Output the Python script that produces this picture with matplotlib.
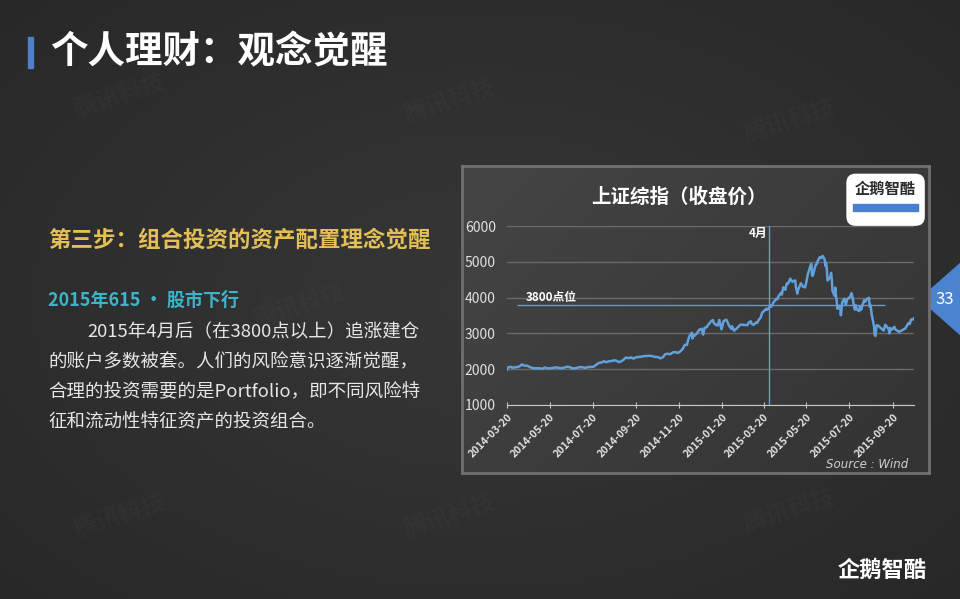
import numpy as np
import matplotlib
matplotlib.use('Agg')
import matplotlib.pyplot as plt
import matplotlib.dates as mdates
from matplotlib.patches import Rectangle, Polygon, FancyBboxPatch

plt.rcParams['font.family'] = ['Noto Sans CJK SC', 'DejaVu Sans']

# 上证综指 closing values
dates = [
    '2014-03-20', '2014-03-21', '2014-03-25', '2014-03-28', '2014-04-02', '2014-04-04',
    '2014-04-09', '2014-04-10', '2014-04-14', '2014-04-18', '2014-04-22', '2014-04-25',
    '2014-04-29', '2014-05-05', '2014-05-09', '2014-05-13', '2014-05-16', '2014-05-21',
    '2014-05-23', '2014-05-28', '2014-06-03', '2014-06-06', '2014-06-11', '2014-06-13',
    '2014-06-18', '2014-06-20', '2014-06-25', '2014-06-27', '2014-07-02', '2014-07-04',
    '2014-07-09', '2014-07-11', '2014-07-16', '2014-07-18', '2014-07-22', '2014-07-25',
    '2014-07-29', '2014-08-01', '2014-08-05', '2014-08-08', '2014-08-12', '2014-08-15',
    '2014-08-19', '2014-08-22', '2014-08-26', '2014-08-29', '2014-09-02', '2014-09-05',
    '2014-09-10', '2014-09-12', '2014-09-16', '2014-09-19', '2014-09-23', '2014-09-26',
    '2014-09-30', '2014-10-10', '2014-10-14', '2014-10-17', '2014-10-21', '2014-10-24',
    '2014-10-28', '2014-10-31', '2014-11-04', '2014-11-07', '2014-11-11', '2014-11-14',
    '2014-11-18', '2014-11-21', '2014-11-25', '2014-11-28',
    '2014-12-01', '2014-12-02', '2014-12-04', '2014-12-05', '2014-12-08', '2014-12-09',
    '2014-12-10', '2014-12-12', '2014-12-16', '2014-12-17', '2014-12-19', '2014-12-22',
    '2014-12-23', '2014-12-24', '2014-12-26', '2014-12-29', '2014-12-31',
    '2015-01-05', '2015-01-07', '2015-01-08', '2015-01-12', '2015-01-14', '2015-01-16',
    '2015-01-19', '2015-01-20', '2015-01-22', '2015-01-26', '2015-01-28', '2015-01-30',
    '2015-02-02', '2015-02-03', '2015-02-06', '2015-02-10', '2015-02-13', '2015-02-16',
    '2015-02-25', '2015-02-27', '2015-03-02', '2015-03-03', '2015-03-06', '2015-03-09',
    '2015-03-11', '2015-03-13', '2015-03-16', '2015-03-18', '2015-03-20', '2015-03-24',
    '2015-03-25', '2015-03-27', '2015-03-30', '2015-03-31', '2015-04-02', '2015-04-03',
    '2015-04-07', '2015-04-09', '2015-04-10', '2015-04-14', '2015-04-15', '2015-04-17',
    '2015-04-20', '2015-04-22', '2015-04-24', '2015-04-27', '2015-04-30', '2015-05-04',
    '2015-05-05', '2015-05-07', '2015-05-08', '2015-05-12', '2015-05-15', '2015-05-18',
    '2015-05-20', '2015-05-22', '2015-05-26', '2015-05-27', '2015-05-28', '2015-05-29',
    '2015-06-02', '2015-06-04', '2015-06-05', '2015-06-08', '2015-06-10', '2015-06-12',
    '2015-06-15', '2015-06-16', '2015-06-17', '2015-06-18', '2015-06-19', '2015-06-23',
    '2015-06-24', '2015-06-25', '2015-06-26', '2015-06-29', '2015-06-30', '2015-07-01',
    '2015-07-02', '2015-07-03', '2015-07-06', '2015-07-07', '2015-07-08', '2015-07-09',
    '2015-07-10', '2015-07-13', '2015-07-15', '2015-07-17', '2015-07-21', '2015-07-23',
    '2015-07-24', '2015-07-27', '2015-07-28', '2015-07-29', '2015-07-31', '2015-08-03',
    '2015-08-04', '2015-08-06', '2015-08-07', '2015-08-10', '2015-08-12', '2015-08-14',
    '2015-08-17', '2015-08-18', '2015-08-19', '2015-08-20', '2015-08-21', '2015-08-24',
    '2015-08-25', '2015-08-26', '2015-08-27', '2015-08-28', '2015-08-31', '2015-09-02',
    '2015-09-07', '2015-09-09', '2015-09-11', '2015-09-14', '2015-09-15', '2015-09-16',
    '2015-09-18', '2015-09-22', '2015-09-23', '2015-09-25', '2015-09-29', '2015-09-30',
    '2015-10-08', '2015-10-09', '2015-10-12', '2015-10-14', '2015-10-15', '2015-10-16',
    '2015-10-19', '2015-10-20',
]
closes = [
    1993, 2047, 2067, 2041, 2059, 2058,
    2105, 2134, 2098, 2098, 2055, 2036,
    2026, 2027, 2011, 2050, 2026, 2024,
    2034, 2050, 2038, 2029, 2052, 2070,
    2055, 2024, 2025, 2036, 2059, 2059,
    2038, 2047, 2067, 2059, 2076, 2126,
    2178, 2185, 2223, 2194, 2221, 2226,
    2245, 2240, 2199, 2217, 2266, 2326,
    2307, 2331, 2296, 2329, 2343, 2347,
    2364, 2374, 2359, 2341, 2339, 2302,
    2337, 2420, 2430, 2418, 2469, 2478,
    2456, 2487, 2567, 2683,
    2680, 2763, 2899, 2938, 3020, 2857,
    2940, 2938, 3021, 3061, 3108, 3128,
    3032, 2968, 3157, 3168, 3235,
    3351, 3374, 3294, 3230, 3222, 3376,
    3116, 3173, 3343, 3383, 3305, 3210,
    3128, 3204, 3076, 3141, 3204, 3247,
    3229, 3310, 3336, 3263, 3241, 3302,
    3291, 3372, 3449, 3577, 3617, 3691,
    3660, 3691, 3786, 3748, 3825, 3863,
    3961, 3957, 4034, 4135, 4084, 4287,
    4217, 4398, 4394, 4527, 4442, 4481,
    4299, 4112, 4205, 4401, 4308, 4284,
    4446, 4658, 4910, 4941, 4620, 4611,
    4910, 4947, 5023, 5131, 5106, 5166,
    5062, 4887, 4967, 4785, 4478, 4577,
    4690, 4527, 4193, 4053, 4277, 4054,
    3913, 3687, 3776, 3728, 3507, 3710,
    3878, 3970, 3805, 3957, 4017, 4124,
    4070, 3725, 3663, 3789, 3664, 3623,
    3756, 3662, 3744, 3928, 3887, 3965,
    3993, 3749, 3794, 3664, 3508, 3210,
    2965, 2928, 3084, 3232, 3206, 3160,
    3080, 3243, 3200, 3114, 2999, 3152,
    3097, 3186, 3116, 3093, 3038, 3053,
    3144, 3183, 3287, 3263, 3338, 3391,
    3387, 3425,
]
yticks = [1000, 2000, 3000, 4000, 5000, 6000]
level_3800 = 3800
april_mark = '2015-03-28'

body_lines = [
    '2015年4月后（在3800点以上）追涨建仓',
    '的账户多数被套。人们的风险意识逐渐觉醒，',
    '合理的投资需要的是Portfolio，即不同风险特',
    '征和流动性特征资产的投资组合。',
]

fig = plt.figure(figsize=(9.6, 5.99), dpi=100)

# slide background, pixel coords
bg = fig.add_axes([0, 0, 1, 1])
yy, xx = np.mgrid[0:599, 0:960]
r = np.sqrt(((xx - 480) / 700.0) ** 2 + ((yy - 300) / 450.0) ** 2)
shade = 0.215 - 0.06 * np.clip(r, 0, 1)
bg.imshow(np.dstack([shade, shade, shade]), extent=[0, 960, 599, 0], aspect='auto')
bg.set_xlim(0, 960)
bg.set_ylim(599, 0)
bg.axis('off')

# faint watermarks
for wx, wy in [(120, 95), (450, 100), (790, 120), (120, 515), (450, 515), (790, 510), (300, 305), (600, 320)]:
    bg.text(wx, wy, '腾讯科技', color='white', alpha=0.025, fontsize=17, rotation=18,
            ha='center', va='center', fontweight='bold')

bg.add_patch(Rectangle((28, 37), 5, 31, color='#4f7fc6'))
bg.text(50, 52, '个人理财：观念觉醒', color='white', fontsize=27, fontweight='bold', va='center')
bg.text(48, 240, '第三步：组合投资的资产配置理念觉醒', color='#e3bf56', fontsize=16.2,
        fontweight='bold', va='center')
bg.text(48, 300, '2015年615 · 股市下行', color='#3cb4c9', fontsize=13, fontweight='bold', va='center')
for i, line in enumerate(body_lines):
    bg.text(87 if i == 0 else 48, 332 + i * 29.8, line, color='#e6e6e6', fontsize=13.3, va='center')

# page number tab
bg.add_patch(Polygon([(920, 299), (962, 262), (962, 336)], closed=True, color='#4a84cf'))
bg.text(945, 300, '33', color='white', fontsize=12, ha='center', va='center')

# bottom right logo
bg.text(882, 570, '企鹅智酷', color='white', fontsize=16, ha='center', va='center', fontweight='bold')

# chart panel
panel = fig.add_axes([462 / 960, (599 - 473) / 599, 467 / 960, 307 / 599])
py, px = np.mgrid[0:100, 0:150]
g = 0.27 - 0.07 * (px / 150.0 * 0.6 + py / 100.0 * 0.4)
panel.imshow(np.dstack([g, g, g]), extent=[0, 1, 0, 1], aspect='auto')
panel.set_xticks([])
panel.set_yticks([])
for s in panel.spines.values():
    s.set_color('#707070')
    s.set_linewidth(2)

panel.add_patch(FancyBboxPatch((0.823, 0.805), 0.168, 0.17, boxstyle='round,pad=0,rounding_size=0.02',
                               transform=panel.transAxes, facecolor='white', edgecolor='none',
                               mutation_aspect=1.5))
panel.add_patch(Rectangle((0.838, 0.855), 0.138, 0.02, color='#4a7fd0', transform=panel.transAxes))
panel.text(0.907, 0.925, '企鹅智酷', color='#2a2a2a', fontsize=11, fontweight='bold',
           ha='center', va='center', transform=panel.transAxes)
panel.text(0.465, 0.9, '上证综指（收盘价）', color='white', fontsize=14, fontweight='bold',
           ha='center', va='center', transform=panel.transAxes)
panel.text(0.955, 0.027, 'Source : Wind', color='#d0d0d0', fontsize=8.5, style='italic',
           ha='right', va='center', transform=panel.transAxes, family='DejaVu Sans')

# plot area
ax = fig.add_axes([507 / 960, (599 - 405) / 599, 407 / 960, 179 / 599])
ax.patch.set_alpha(0)
x = mdates.datestr2num(dates)
ax.plot(x, closes, color='#62a0dc', lw=1.8, zorder=3)
ax.set_xlim(mdates.datestr2num('2014-03-20'), mdates.datestr2num('2015-10-20'))
ax.set_ylim(1000, 6000)
ax.set_yticks(yticks)
ax.yaxis.grid(True, color='#6a6a6a', lw=1)
ax.set_axisbelow(True)
for s in ['top', 'right', 'left']:
    ax.spines[s].set_visible(False)
ax.spines['bottom'].set_color('#c8c8c8')
ax.tick_params(axis='y', length=0, pad=8, labelsize=10, labelcolor='#e0e0e0')
ax.xaxis.set_major_locator(mdates.MonthLocator(bymonth=[1, 3, 5, 7, 9, 11], bymonthday=20))
ax.xaxis.set_major_formatter(mdates.DateFormatter('%Y-%m-%d'))
ax.tick_params(axis='x', direction='inout', length=4, color='#c8c8c8', labelsize=7.5,
               labelcolor='#e0e0e0', pad=3)
for lab in ax.get_xticklabels():
    lab.set_rotation(45)
    lab.set_ha('right')
    lab.set_rotation_mode('anchor')
    lab.set_fontweight('bold')

xm = mdates.datestr2num(april_mark)
ax.axvline(xm, color='#6b9bd0', lw=1, zorder=2)
ax.text(xm - 2, 5780, '4月', color='white', fontsize=8.5, fontweight='bold', ha='right', va='center')
ax.hlines(level_3800, mdates.datestr2num('2014-04-03'), mdates.datestr2num('2015-09-09'),
          color='#7393c0', lw=1, zorder=2)
ax.text(mdates.datestr2num('2014-04-15'), 4000, '3800点位', color='white', fontsize=8.5,
        fontweight='bold', ha='left', va='center')

fig.savefig('out.png', dpi=100)
